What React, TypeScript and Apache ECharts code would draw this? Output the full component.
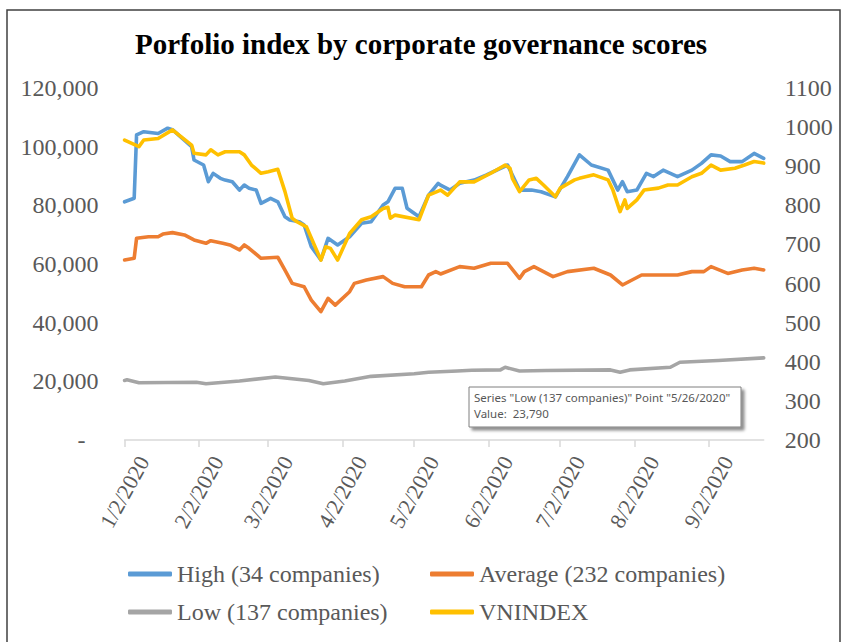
import React, { useEffect, useRef } from 'react';
import * as echarts from 'echarts';

const titleText = 'Porfolio index by corporate governance scores';
const seriesNames = ['High (34 companies)', 'Average (232 companies)', 'Low (137 companies)', 'VNINDEX'];
const seriesColors = ['#5B9BD5', '#ED7D31', '#A5A5A5', '#FFC000'];
const tickDates = ['2020-01-02', '2020-02-02', '2020-03-02', '2020-04-02', '2020-05-02', '2020-06-02', '2020-07-02', '2020-08-02', '2020-09-02'];
const xStart = '2020-01-02';
const xEnd = '2020-09-25';
const tooltipLines = ['Series "Low (137 companies)" Point "5/26/2020"', 'Value:  23,790'];

const high: [string, number][] = [
  ['2020-01-02', 81200], ['2020-01-06', 82400], ['2020-01-07', 104000], ['2020-01-10', 105100],
  ['2020-01-16', 104500], ['2020-01-20', 106300], ['2020-01-22', 105800], ['2020-01-30', 100000],
  ['2020-01-31', 95450], ['2020-02-04', 93750], ['2020-02-06', 88050], ['2020-02-08', 90900],
  ['2020-02-11', 89200], ['2020-02-13', 88600], ['2020-02-16', 88050], ['2020-02-19', 85200],
  ['2020-02-21', 86900], ['2020-02-23', 85800], ['2020-02-26', 85200], ['2020-02-28', 80700],
  ['2020-03-03', 82400], ['2020-03-06', 81200], ['2020-03-09', 76100], ['2020-03-11', 75000],
  ['2020-03-15', 74400], ['2020-03-17', 73300], ['2020-03-20', 65900], ['2020-03-24', 61400],
  ['2020-03-27', 68750], ['2020-03-31', 66500], ['2020-04-05', 69300], ['2020-04-10', 73900],
  ['2020-04-14', 74400], ['2020-04-19', 80100], ['2020-04-21', 81200], ['2020-04-24', 85800],
  ['2020-04-27', 85800], ['2020-04-29', 79000], ['2020-05-04', 76100], ['2020-05-08', 83500],
  ['2020-05-12', 87500], ['2020-05-13', 86900], ['2020-05-17', 85200], ['2020-05-21', 87500],
  ['2020-05-27', 88600], ['2020-06-01', 90300], ['2020-06-10', 93750], ['2020-06-15', 85200],
  ['2020-06-20', 85200], ['2020-06-24', 84650], ['2020-06-30', 82900], ['2020-07-05', 89800],
  ['2020-07-10', 97200], ['2020-07-15', 93750], ['2020-07-22', 92000], ['2020-07-26', 85200],
  ['2020-07-28', 88050], ['2020-07-30', 84650], ['2020-08-03', 85200], ['2020-08-07', 90900],
  ['2020-08-10', 89800], ['2020-08-14', 92000], ['2020-08-20', 89800], ['2020-08-26', 92000],
  ['2020-08-30', 94300], ['2020-09-03', 97200], ['2020-09-07', 96800], ['2020-09-11', 94900],
  ['2020-09-16', 94900], ['2020-09-21', 97700], ['2020-09-25', 96000],
];

const average: [string, number][] = [
  ['2020-01-02', 61360], ['2020-01-06', 61950], ['2020-01-07', 68750], ['2020-01-12', 69300],
  ['2020-01-16', 69300], ['2020-01-18', 70200], ['2020-01-22', 70700], ['2020-01-27', 69900],
  ['2020-01-31', 68200], ['2020-02-05', 67050], ['2020-02-07', 67950], ['2020-02-12', 67050],
  ['2020-02-15', 66500], ['2020-02-19', 64800], ['2020-02-21', 66500], ['2020-02-23', 65350],
  ['2020-02-28', 61950], ['2020-03-06', 62300], ['2020-03-09', 57950], ['2020-03-12', 53400],
  ['2020-03-17', 52250], ['2020-03-20', 47700], ['2020-03-24', 43750], ['2020-03-27', 48300],
  ['2020-03-30', 46000], ['2020-04-05', 50550], ['2020-04-07', 53400], ['2020-04-12', 54550],
  ['2020-04-19', 55700], ['2020-04-23', 53400], ['2020-04-28', 52250], ['2020-05-05', 52250],
  ['2020-05-08', 56250], ['2020-05-11', 57400], ['2020-05-13', 56600], ['2020-05-21', 59100],
  ['2020-05-27', 58550], ['2020-06-03', 60250], ['2020-06-10', 60250], ['2020-06-15', 55100],
  ['2020-06-17', 57400], ['2020-06-21', 59100], ['2020-06-29', 55700], ['2020-07-05', 57400],
  ['2020-07-16', 58550], ['2020-07-23', 56250], ['2020-07-28', 52850], ['2020-08-05', 56250],
  ['2020-08-20', 56250], ['2020-08-26', 57400], ['2020-08-31', 57400], ['2020-09-03', 59100],
  ['2020-09-10', 56800], ['2020-09-16', 57950], ['2020-09-21', 58550], ['2020-09-25', 57950],
];

const low: [string, number][] = [
  ['2020-01-02', 20300], ['2020-01-03', 20500], ['2020-01-08', 19500], ['2020-02-01', 19700],
  ['2020-02-05', 19200], ['2020-02-19', 20100], ['2020-03-05', 21500], ['2020-03-12', 20900],
  ['2020-03-19', 20300], ['2020-03-25', 19200], ['2020-04-03', 20100], ['2020-04-14', 21700],
  ['2020-05-02', 22600], ['2020-05-08', 23100], ['2020-05-20', 23500], ['2020-05-26', 23790],
  ['2020-06-07', 23900], ['2020-06-09', 24800], ['2020-06-15', 23500], ['2020-06-26', 23700],
  ['2020-07-23', 23900], ['2020-07-27', 23100], ['2020-07-31', 23900], ['2020-08-17', 24800],
  ['2020-08-21', 26500], ['2020-09-06', 27100], ['2020-09-25', 28000],
];

const vnindex: [string, number][] = [
  ['2020-01-02', 967], ['2020-01-08', 950], ['2020-01-10', 967], ['2020-01-16', 971],
  ['2020-01-22', 993], ['2020-01-30', 954], ['2020-01-31', 933], ['2020-02-05', 929],
  ['2020-02-07', 942], ['2020-02-10', 929], ['2020-02-13', 937], ['2020-02-19', 937],
  ['2020-02-21', 929], ['2020-02-24', 903], ['2020-02-28', 882], ['2020-03-02', 886],
  ['2020-03-06', 892], ['2020-03-09', 835], ['2020-03-12', 767], ['2020-03-14', 758],
  ['2020-03-18', 745], ['2020-03-24', 660], ['2020-03-26', 694], ['2020-03-28', 690],
  ['2020-03-31', 660], ['2020-04-05', 728], ['2020-04-10', 763], ['2020-04-14', 771],
  ['2020-04-19', 792], ['2020-04-21', 795], ['2020-04-22', 767], ['2020-04-24', 775],
  ['2020-05-04', 763], ['2020-05-08', 826], ['2020-05-13', 839], ['2020-05-16', 826],
  ['2020-05-21', 860], ['2020-05-27', 860], ['2020-06-03', 882], ['2020-06-09', 903],
  ['2020-06-11', 895], ['2020-06-12', 869], ['2020-06-15', 835], ['2020-06-19', 865],
  ['2020-06-22', 869], ['2020-06-25', 852], ['2020-06-30', 822], ['2020-07-02', 844],
  ['2020-07-08', 865], ['2020-07-10', 869], ['2020-07-16', 878], ['2020-07-22', 865],
  ['2020-07-24', 839], ['2020-07-27', 784], ['2020-07-29', 814], ['2020-07-30', 792],
  ['2020-08-03', 814], ['2020-08-06', 839], ['2020-08-12', 844], ['2020-08-16', 852],
  ['2020-08-20', 852], ['2020-08-26', 873], ['2020-08-30', 882], ['2020-09-03', 903],
  ['2020-09-07', 890], ['2020-09-13', 895], ['2020-09-17', 903], ['2020-09-21', 912],
  ['2020-09-25', 908],
];

const toTs = (s: string) => new Date(s + 'T00:00:00').getTime();
const SERIF = 'Liberation Serif';
const LABEL = '#595959';

export default function App() {
  const ref = useRef<HTMLDivElement>(null);
  useEffect(() => {
    if (!ref.current) return;
    const chart = echarts.init(ref.current, undefined, { renderer: 'svg' });
    const datasets = [high, average, low, vnindex];
    const tickTs = tickDates.map(toTs);
    const legendBase = {
      orient: 'vertical', top: 560, padding: 0, itemWidth: 44, itemHeight: 5, itemGap: 10,
      icon: 'roundRect',
      textStyle: { fontFamily: SERIF, fontSize: 24, color: LABEL, lineHeight: 28 },
    };
    chart.setOption({
      animation: false,
      backgroundColor: '#fff',
      title: {
        text: titleText,
        left: 'center',
        top: 24,
        textStyle: { fontFamily: SERIF, fontWeight: 'bold', fontSize: 29, color: '#000' },
      },
      grid: { left: 124.6, right: 78.3, top: 88, bottom: 202, containLabel: false },
      legend: [
        { ...legendBase, left: 128, data: [seriesNames[0], seriesNames[2]] },
        { ...legendBase, left: 430, data: [seriesNames[1], seriesNames[3]] },
      ],
      xAxis: {
        type: 'value',
        min: toTs(xStart),
        max: toTs(xEnd),
        splitLine: { show: false },
        axisLine: { show: true, lineStyle: { color: '#D9D9D9', width: 1.5 } },
        axisTick: { show: true, customValues: tickTs, length: 7, lineStyle: { color: '#D9D9D9', width: 1.5 } },
        axisLabel: {
          customValues: tickTs,
          rotate: 61,
          align: 'center',
          verticalAlign: 'middle',
          margin: 52,
          fontFamily: SERIF,
          fontSize: 22,
          color: LABEL,
          hideOverlap: false,
          formatter: (v: number) => {
            const d = new Date(v);
            return `${d.getMonth() + 1}/${d.getDate()}/${d.getFullYear()}`;
          },
        },
      },
      yAxis: [
        {
          type: 'value', position: 'left', min: 0, max: 120000, interval: 20000,
          splitLine: { show: false }, axisLine: { show: false }, axisTick: { show: false },
          axisLabel: {
            margin: 26, fontFamily: SERIF, fontSize: 24, color: LABEL,
            formatter: (v: number) => (v === 0 ? '{d|-}' : v.toLocaleString('en-US')),
            rich: { d: { fontFamily: SERIF, fontSize: 24, color: LABEL, padding: [0, 13, 0, 0] } },
          },
        },
        {
          type: 'value', position: 'right', min: 200, max: 1100, interval: 100,
          splitLine: { show: false }, axisLine: { show: false }, axisTick: { show: false },
          axisLabel: {
            margin: 21, fontFamily: SERIF, fontSize: 24, color: LABEL,
            formatter: (v: number) => String(v),
          },
        },
      ],
      series: datasets.map((data, i) => ({
        name: seriesNames[i],
        type: 'line',
        yAxisIndex: i === 3 ? 1 : 0,
        data: data.map(([d, v]) => [toTs(d), v]),
        showSymbol: false,
        symbol: 'none',
        color: seriesColors[i],
        lineStyle: { width: 3.6, color: seriesColors[i], join: 'round', cap: 'round' },
        z: 2 + i,
      })),
      graphic: [
        {
          type: 'rect', silent: true, z: 0,
          shape: { x: 7, y: 10, width: 833, height: 700 },
          style: { fill: 'none', stroke: '#404040', lineWidth: 1.5 },
        },
        {
          type: 'group', z: 100,
          children: [
            {
              type: 'rect',
              shape: { x: 469, y: 387, width: 272, height: 40 },
              style: {
                fill: '#fff', stroke: '#7f7f7f', lineWidth: 1,
                shadowBlur: 3, shadowOffsetX: 3, shadowOffsetY: 3, shadowColor: 'rgba(0,0,0,0.45)',
              },
            },
            {
              type: 'text', x: 474, y: 397,
              style: {
                text: tooltipLines[0], font: '11.5px "Noto Sans"', fill: '#575757',
                verticalAlign: 'middle',
              },
            },
            {
              type: 'text', x: 474, y: 413,
              style: {
                text: tooltipLines[1], font: '11.5px "Noto Sans"', fill: '#575757',
                verticalAlign: 'middle',
              },
            },
          ],
        },
      ],
    });
    return () => chart.dispose();
  }, []);
  return <div ref={ref} style={{ position: 'fixed', left: 0, top: 0, width: 842, height: 642, background: '#fff' }} />;
}
